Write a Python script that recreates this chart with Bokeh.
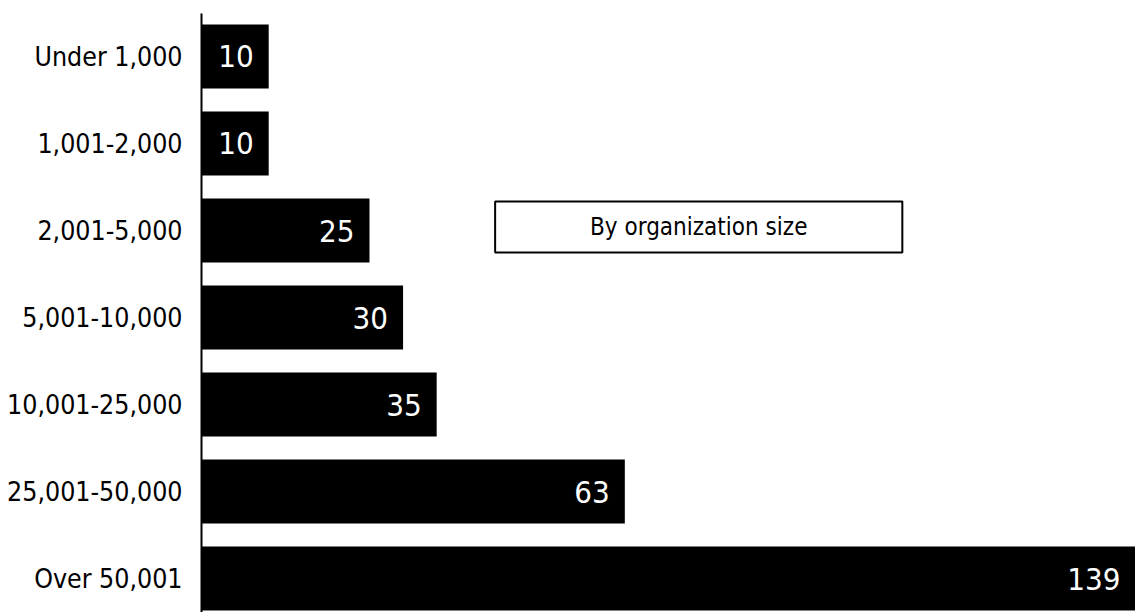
from bokeh.plotting import figure
from bokeh.models import ColumnDataSource, Range1d, FixedTicker, BoxAnnotation, Label, LabelSet
from bokeh.core.properties import value
from bokeh.embed import file_html
from bokeh.resources import INLINE

categories = ["Under 1,000", "1,001-2,000", "2,001-5,000", "5,001-10,000",
              "10,001-25,000", "25,001-50,000", "Over 50,001"]
counts = [10, 10, 25, 30, 35, 63, 139]
legend_text = "By organization size"

FONT = "DejaVu Sans Condensed"

idx = list(range(len(categories)))
src = ColumnDataSource(dict(y=idx, v=counts, lab=[str(c) for c in counts]))

p = figure(width=1135, height=612, output_backend="svg", toolbar_location=None,
           x_range=Range1d(0, 139), y_range=Range1d(6.39, -0.494),
           min_border_left=201, min_border_right=0, min_border_top=13, min_border_bottom=0)

p.hbar(y="y", left=0, right="v", height=0.735, source=src,
       fill_color="black", line_color=None)

labels = LabelSet(x="v", y="y", text="lab", source=src, x_offset=-15,
                  text_align="right", text_baseline="middle",
                  text_color="white", text_font=value(FONT), text_font_size=value("31px"))
p.add_layout(labels)

box = BoxAnnotation(left=43.7, right=104.3, top=1.667, bottom=2.253,
                    fill_color="white", fill_alpha=1.0,
                    line_color="black", line_width=2, line_alpha=1.0)
p.add_layout(box)
p.add_layout(Label(x=74.0, y=1.96, text=legend_text, text_align="center",
                   text_baseline="middle", text_font=FONT, text_font_size="24px",
                   text_color="black"))

p.xaxis.visible = False
p.yaxis.ticker = FixedTicker(ticks=idx)
p.yaxis.major_label_overrides = {i: c for i, c in zip(idx, categories)}
p.yaxis.major_tick_line_color = None
p.yaxis.minor_tick_line_color = None
p.yaxis.axis_line_width = 2
p.yaxis.axis_line_color = "black"
p.yaxis.major_label_standoff = 13
p.yaxis.major_label_text_font = FONT
p.yaxis.major_label_text_font_size = "26.5px"
p.yaxis.major_label_text_color = "black"
p.yaxis.major_label_text_font_style = "normal"
p.grid.visible = False
p.outline_line_color = None

open("out.html", "w").write(file_html(p, INLINE))
